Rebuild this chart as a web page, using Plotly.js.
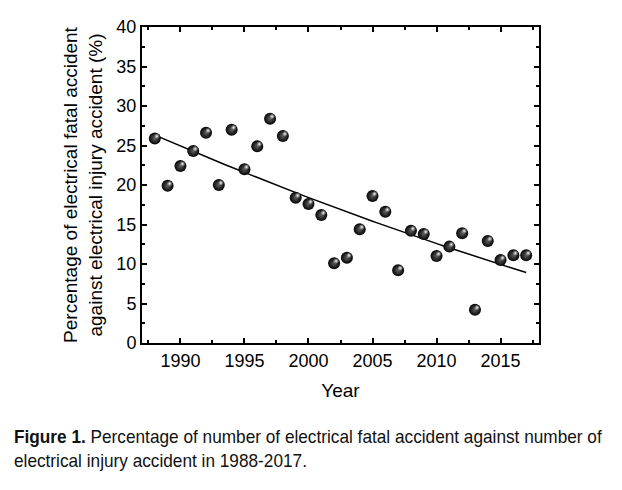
<!DOCTYPE html>
<html>
<head>
<meta charset="utf-8">
<script src="https://cdn.plot.ly/plotly-3.0.1.min.js"></script>
<style>
html,body{margin:0;padding:0;background:#fff;}
#chart{width:622px;height:490px;}
</style>
</head>
<body>
<div id="chart"></div>
<script>
// ---- data ----
const years = [1988,1989,1990,1991,1992,1993,1994,1995,1996,1997,
               1998,1999,2000,2001,2002,2003,2004,2005,2006,2007,
               2008,2009,2010,2011,2012,2013,2014,2015,2016,2017];
const percentage = [25.9,19.9,22.4,24.3,26.6,20.0,27.0,22.0,24.9,28.4,
                    26.2,18.4,17.6,16.2,10.1,10.8,14.4,18.6,16.6,9.2,
                    14.2,13.8,11.0,12.2,13.9,4.2,12.9,10.5,11.1,11.1];
const xTickVals = [1990,1995,2000,2005,2010,2015];
const yTickVals = [0,5,10,15,20,25,30,35,40];
const xTitle = 'Year';
const yTitle = 'Percentage of electrical fatal accident<br>against electrical injury accident (%)';
const captionBold = 'Figure 1.';
const captionLine1 = ' Percentage of number of electrical fatal accident against number of';
const captionLine2 = 'electrical injury accident in 1988-2017.';

// ---- least-squares quadratic trend (fit of the data) ----
function quadFit(xs, ys) {
  const n = xs.length, x0 = xs.reduce((a,b)=>a+b,0)/n;
  let S = [0,0,0,0,0], T = [0,0,0];
  for (let i=0;i<n;i++){const t=xs[i]-x0;let p=1;for(let k=0;k<5;k++){S[k]+=p;if(k<3)T[k]+=p*ys[i];p*=t;}}
  const A=[[S[0],S[1],S[2]],[S[1],S[2],S[3]],[S[2],S[3],S[4]]], b=T.slice();
  for(let i=0;i<3;i++){for(let j=i+1;j<3;j++){const f=A[j][i]/A[i][i];for(let k=i;k<3;k++)A[j][k]-=f*A[i][k];b[j]-=f*b[i];}}
  const c=[0,0,0];for(let i=2;i>=0;i--){let s=b[i];for(let k=i+1;k<3;k++)s-=A[i][k]*c[k];c[i]=s/A[i][i];}
  return x=>{const t=x-x0;return c[0]+c[1]*t+c[2]*t*t;};
}
const fit = quadFit(years, percentage);
const fitX = [], fitY = [];
for (let x = years[0]; x <= years[years.length-1] + 1e-9; x += 0.25) { fitX.push(x); fitY.push(fit(x)); }

const axisFont = {family:'Liberation Sans, Arial, sans-serif', size:18, color:'#000'};
const titleFont = {family:'Liberation Sans, Arial, sans-serif', size:19, color:'#000'};
const capFont = {family:'Liberation Sans, Arial, sans-serif', size:18, color:'#111'};

const traces = [
  {x: fitX, y: fitY, mode:'lines', line:{color:'#000', width:1.5}, hoverinfo:'skip', showlegend:false},
  {x: years, y: percentage, mode:'markers', showlegend:false,
   marker:{size:12, color:'#030303', line:{width:0}, gradient:{type:'radial', color:'#5e5e5e'}}},
  {x: years, y: percentage, mode:'markers', showlegend:false, xaxis:'x2', yaxis:'y2', hoverinfo:'skip',
   marker:{size:6, color:'rgba(200,200,200,0)', line:{width:0}, gradient:{type:'radial', color:'#ffffff'}}}
];

const pw = 398, ph = 316, pl = 141.5, pb = 343;
const layout = {
  width:622, height:490,
  margin:{l:141.5, r:82.5, t:27, b:147},
  paper_bgcolor:'#fff', plot_bgcolor:'#fff',
  showlegend:false,
  xaxis:{range:[1987,2018], tickvals:xTickVals, ticks:'inside', ticklen:5, tickwidth:2, tickcolor:'#000',
         showline:true, linewidth:2, linecolor:'#000', mirror:'ticks', showgrid:false, zeroline:false,
         tickfont:axisFont, minor:{dtick:2.5, tick0:1987.5, ticks:'inside', ticklen:3, tickwidth:2, tickcolor:'#000', showgrid:false},
         title:{text:xTitle, font:titleFont, standoff:14}},
  yaxis:{range:[0,40], tickvals:yTickVals, ticks:'inside', ticklen:5, tickwidth:2, tickcolor:'#000',
         showline:true, linewidth:2, linecolor:'#000', mirror:'ticks', showgrid:false, zeroline:false,
         tickfont:axisFont, minor:{dtick:2.5, tick0:0, ticks:'inside', ticklen:3, tickwidth:2, tickcolor:'#000', showgrid:false},
         title:{text:yTitle, font:titleFont, standoff:9}},
  xaxis2:{overlaying:'x', range:[1987-0.16, 2018-0.16], visible:false},
  yaxis2:{overlaying:'y', range:[-0.28, 40-0.28], visible:false},
  annotations:[
    {xref:'paper', yref:'paper', x:(11-pl)/pw, y:-(437-pb)/ph, xanchor:'left', yanchor:'middle', showarrow:false, align:'left',
     text:'<b>'+captionBold+'</b>'+captionLine1, font:capFont},
    {xref:'paper', yref:'paper', x:(11-pl)/pw, y:-(461-pb)/ph, xanchor:'left', yanchor:'middle', showarrow:false, align:'left',
     text:captionLine2, font:capFont}
  ]
};

Plotly.newPlot('chart', traces, layout, {staticPlot:true, displayModeBar:false}).then(() => {
  // condense the caption horizontally (the reference uses a narrow face)
  const texts = document.querySelectorAll('#chart .annotation-text');
  if (!texts.length) return;
  const w0 = texts[0].getBBox().width;
  const s = 589 / w0;
  texts.forEach(t => {
    const bb = t.getBBox();
    t.setAttribute('transform', `translate(${bb.x},0) scale(${s},1) translate(${-bb.x},0)`);
  });
});
</script>
</body>
</html>
